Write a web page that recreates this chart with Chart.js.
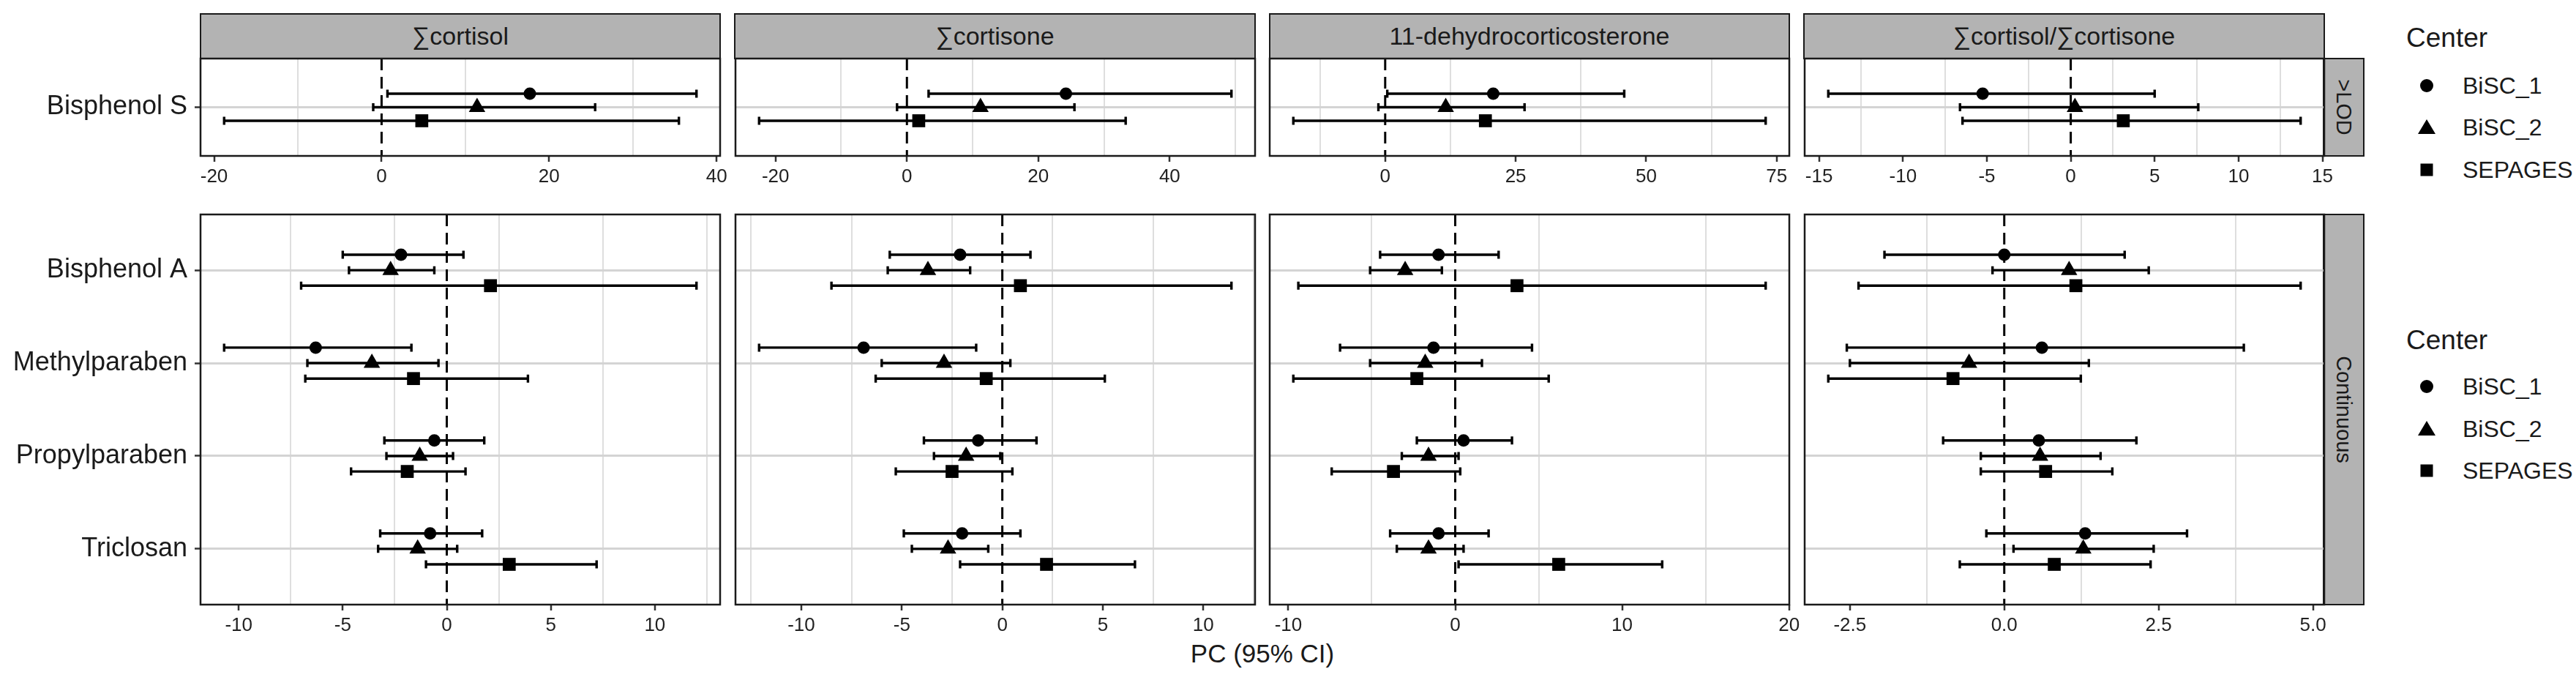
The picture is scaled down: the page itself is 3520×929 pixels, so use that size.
<!DOCTYPE html>
<html>
<head>
<meta charset="utf-8">
<script src="https://cdn.jsdelivr.net/npm/chart.js@4.4.1/dist/chart.umd.min.js"></script>
<style>
    html, body { margin: 0; padding: 0; background: #fff; }
    body { width: 3520px; height: 929px; position: relative; overflow: hidden;
           font-family: "Liberation Sans", Arial, sans-serif; color: #1a1a1a; }
    canvas { position: absolute; }
    .strip { position: absolute; box-sizing: border-box; background: #b3b3b3; border: 2.5px solid #1a1a1a;
             display: flex; align-items: center; justify-content: center; font-size: 34px; white-space: nowrap; }
    .rstrip span { display: block; transform: rotate(90deg); font-size: 29px; }
    .legend { position: absolute; left: 3288px; }
    .legend .title { position: absolute; left: 0; font-size: 37px; transform: translateY(-50%); white-space: nowrap; }
    .legend .item { position: absolute; left: 0; height: 0; }
    .legend .item svg { position: absolute; left: 15px; top: -13px; }
    .legend .item span { position: absolute; left: 77px; font-size: 32px; transform: translateY(-50%); white-space: nowrap; }
    #xtitle { position: absolute; left: 1725px; top: 893px; transform: translate(-50%, -50%); font-size: 35px; white-space: nowrap; }
</style>
</head>
<body>
<div id="xtitle">PC (95% CI)</div>
<script>
// ----------------- Data -----------------
const outcomes = ['∑cortisol', '∑cortisone', '11-dehydrocorticosterone', '∑cortisol/∑cortisone'];
const centers = ['BiSC_1', 'BiSC_2', 'SEPAGES'];
const exposures = ['Bisphenol S', 'Bisphenol A', 'Methylparaben', 'Propylparaben', 'Triclosan'];
const exposureRow = ['>LOD', 'Continuous', 'Continuous', 'Continuous', 'Continuous'];
const rowNames = ['>LOD', 'Continuous'];

// one line per center, values in exposure order
const cortisolPC = [[17.7, -2.2, -6.3, -0.6, -0.8], [11.4, -2.7, -3.6, -1.3, -1.4], [4.8, 2.1, -1.6, -1.9, 3.0]];
const cortisolLo = [[0.7, -5.0, -10.7, -3.0, -3.2], [-1.0, -4.7, -6.7, -2.9, -3.3], [-18.8, -7.0, -6.8, -4.6, -1.0]];
const cortisolHi = [[37.6, 0.8, -1.7, 1.8, 1.7], [25.5, -0.6, -0.4, 0.3, 0.5], [35.5, 12.0, 3.9, 0.9, 7.2]];

const cortisonePC = [[24.2, -2.1, -6.9, -1.2, -2.0], [11.2, -3.7, -2.9, -1.8, -2.7], [1.8, 0.9, -0.8, -2.5, 2.2]];
const cortisoneLo = [[3.3, -5.6, -12.1, -3.9, -4.9], [-1.5, -5.7, -6.0, -3.4, -4.5], [-22.5, -8.5, -6.3, -5.3, -2.1]];
const cortisoneHi = [[49.4, 1.4, -1.3, 1.7, 0.9], [25.5, -1.6, 0.4, -0.1, -0.7], [33.3, 11.4, 5.1, 0.5, 6.6]];

const dehydroPC = [[20.7, -1.0, -1.3, 0.5, -1.0], [11.6, -3.0, -1.8, -1.6, -1.6], [19.2, 3.7, -2.3, -3.7, 6.2]];
const dehydroLo = [[0.4, -4.5, -6.9, -2.3, -3.9], [-1.3, -5.1, -5.1, -3.2, -3.5], [-17.6, -9.4, -9.7, -7.4, 0.2]];
const dehydroHi = [[45.8, 2.6, 4.6, 3.4, 2.0], [26.7, -0.8, 1.6, 0.2, 0.5], [72.9, 18.6, 5.6, 0.3, 12.4]];

const ratioPC = [[-5.25, 0.0, 0.61, 0.56, 1.31], [0.25, 1.05, -0.57, 0.58, 1.28], [3.13, 1.16, -0.83, 0.67, 0.81]];
const ratioLo = [[-14.45, -1.94, -2.55, -0.99, -0.29], [-6.6, -0.19, -2.5, -0.38, 0.15], [-6.45, -2.36, -2.85, -0.38, -0.72]];
const ratioHi = [[5.0, 1.95, 3.88, 2.14, 2.96], [7.6, 2.34, 1.37, 1.56, 2.42], [13.7, 4.8, 1.24, 1.75, 2.37]];

// x tick labels per panel
const ticksLod = [[-20, 0, 20, 40], [-20, 0, 20, 40], [0, 25, 50, 75], [-15, -10, -5, 0, 5, 10, 15]];
const ticksContinuous = [[-10, -5, 0, 5, 10], [-10, -5, 0, 5, 10], [-10, 0, 10, 20], [-2.5, 0, 2.5, 5]];

const outcomePC = [cortisolPC, cortisonePC, dehydroPC, ratioPC];
const outcomeLo = [cortisolLo, cortisoneLo, dehydroLo, ratioLo];
const outcomeHi = [cortisolHi, cortisoneHi, dehydroHi, ratioHi];
const rowTicks = [ticksLod, ticksContinuous];

// ----------------- Layout -----------------
const PANEL_LEFT = 274, PANEL_W = 710, PANEL_GAP = 20.5;
const ROW_TOP = [80, 293], ROW_BOTTOM = [213, 826];
const AXIS_H = 60, PAD = 40;
const SHAPES = ['circle', 'triangle', 'rect'];
const RADII = [8.5, 13, 12.5];
const DODGE = [-1 / 6, 0, 1 / 6];
const FONT = '"Liberation Sans", Arial, sans-serif';

Chart.defaults.font.family = FONT;

// ----------------- Error bars, zero line, panel border -----------------
const forestPlugin = {
    id: 'forest',
    beforeDatasetsDraw(chart) {
        const { ctx, chartArea: a, scales: { x, y } } = chart;
        ctx.save();
        ctx.strokeStyle = '#000';
        ctx.lineWidth = 3;
        ctx.setLineDash([16, 9]);
        const x0 = x.getPixelForValue(0);
        ctx.beginPath();
        ctx.moveTo(x0, a.top);
        ctx.lineTo(x0, a.bottom);
        ctx.stroke();
        ctx.setLineDash([]);
        ctx.lineWidth = 3.4;
        chart.data.datasets.forEach(ds => {
            ds.data.forEach((p, k) => {
                const py = y.getPixelForValue(p.y);
                const x1 = x.getPixelForValue(ds.lo[k]);
                const x2 = x.getPixelForValue(ds.hi[k]);
                ctx.beginPath();
                ctx.moveTo(x1, py); ctx.lineTo(x2, py);
                ctx.moveTo(x1, py - 5.5); ctx.lineTo(x1, py + 5.5);
                ctx.moveTo(x2, py - 5.5); ctx.lineTo(x2, py + 5.5);
                ctx.stroke();
            });
        });
        ctx.restore();
    },
    afterDraw(chart) {
        const { ctx, chartArea: a } = chart;
        ctx.save();
        ctx.strokeStyle = '#1a1a1a';
        ctx.lineWidth = 2.5;
        ctx.strokeRect(a.left, a.top, a.right - a.left, a.bottom - a.top);
        ctx.restore();
    }
};

function fmt(v, list) {
    const dec = list.some(t => !Number.isInteger(t)) ? 1 : 0;
    return v.toFixed(dec);
}

function noPadding(axis) {
    axis.paddingTop = 0; axis.paddingBottom = 0;
    axis.paddingLeft = 0; axis.paddingRight = 0;
}

function makePanel(r, c) {
    const rows = exposures.map((e, k) => k).filter(k => exposureRow[k] === rowNames[r]);
    const pc = outcomePC[c], lo = outcomeLo[c], hi = outcomeHi[c];
    const all = [];
    centers.forEach((cn, s) => rows.forEach(k => all.push(lo[s][k], hi[s][k])));
    const dmin = Math.min(...all), dmax = Math.max(...all);
    const xmin = dmin - 0.05 * (dmax - dmin), xmax = dmax + 0.05 * (dmax - dmin);

    const major = rowTicks[r][c];
    const step = major[1] - major[0];
    const tickObjs = [];
    for (let v = major[0] - step / 2; v <= major[major.length - 1] + step / 2 + 1e-9; v += step / 2) {
        const isMajor = major.some(m => Math.abs(m - v) < 1e-9);
        if (v >= xmin && v <= xmax) tickObjs.push({ value: v, minor: !isMajor });
    }

    const pLeft = PANEL_LEFT + c * (PANEL_W + PANEL_GAP);
    const pRight = pLeft + PANEL_W;
    const cLeft = c === 0 ? 0 : pLeft - PAD;
    const cTop = ROW_TOP[r] - 10;
    const cw = Math.round(pRight + PAD - cLeft);
    const ch = ROW_BOTTOM[r] - cTop + AXIS_H;

    const canvas = document.createElement('canvas');
    canvas.width = cw; canvas.height = ch;
    canvas.style.left = cLeft + 'px'; canvas.style.top = cTop + 'px';
    canvas.style.width = cw + 'px'; canvas.style.height = ch + 'px';
    document.body.appendChild(canvas);

    const first = c === 0;
    new Chart(canvas.getContext('2d'), {
        type: 'scatter',
        data: {
            datasets: centers.map((cn, s) => ({
                label: cn,
                data: rows.map((k, i) => ({ x: pc[s][k], y: i + 1 + DODGE[s] })),
                lo: rows.map(k => lo[s][k]),
                hi: rows.map(k => hi[s][k]),
                pointStyle: SHAPES[s],
                pointRadius: RADII[s],
                pointHoverRadius: RADII[s],
                backgroundColor: '#000',
                borderColor: '#000',
                borderWidth: 0,
                clip: false
            }))
        },
        options: {
            responsive: false,
            animation: false,
            events: [],
            layout: { autoPadding: false, padding: { left: first ? 0 : PAD, right: PAD, top: 10, bottom: 0 } },
            plugins: { legend: { display: false }, tooltip: { enabled: false } },
            scales: {
                x: {
                    type: 'linear', bounds: 'data', min: xmin, max: xmax,
                    afterBuildTicks: axis => { axis.ticks = tickObjs.map(t => ({ ...t })); },
                    afterFit: axis => { axis.height = AXIS_H; noPadding(axis); },
                    border: { display: false },
                    grid: {
                        color: ctx => (ctx.tick && ctx.tick.minor ? '#dedede' : 'rgba(0,0,0,0)'),
                        lineWidth: 2,
                        tickColor: ctx => (ctx.tick && ctx.tick.minor ? 'rgba(0,0,0,0)' : '#333'),
                        tickLength: 8,
                        tickWidth: 2.5
                    },
                    ticks: {
                        autoSkip: false, maxRotation: 0, padding: 5,
                        color: '#222', font: { size: 26 },
                        callback: (v, i, ticks) => (ticks[i].minor ? '' : fmt(v, major))
                    }
                },
                y: {
                    type: 'linear', bounds: 'data', reverse: true, min: 0.4, max: rows.length + 0.6,
                    afterBuildTicks: axis => { axis.ticks = rows.map((k, i) => ({ value: i + 1 })); },
                    afterFit: axis => { axis.width = first ? PANEL_LEFT : 0; noPadding(axis); },
                    border: { display: false },
                    grid: {
                        color: '#d4d4d4', lineWidth: 3,
                        drawTicks: first, tickLength: 8, tickColor: '#333', tickWidth: 2.5
                    },
                    ticks: {
                        display: first, padding: 10, color: '#1a1a1a', font: { size: 36 },
                        callback: v => exposures[rows[Math.round(v) - 1]]
                    }
                }
            }
        },
        plugins: [forestPlugin]
    });
}

// ----------------- Strips -----------------
function addStrip(text, left, top, width, height, rotated) {
    const d = document.createElement('div');
    d.className = 'strip' + (rotated ? ' rstrip' : '');
    d.style.left = left + 'px'; d.style.top = top + 'px';
    d.style.width = width + 'px'; d.style.height = height + 'px';
    if (rotated) {
        const s = document.createElement('span');
        s.textContent = text;
        d.appendChild(s);
    } else {
        d.textContent = text;
    }
    document.body.appendChild(d);
}

outcomes.forEach((o, c) => {
    const pLeft = PANEL_LEFT + c * (PANEL_W + PANEL_GAP);
    addStrip(o, pLeft - 1.25, 18, PANEL_W + 2.5, 63.25, false);
});
const lastRight = PANEL_LEFT + 3 * (PANEL_W + PANEL_GAP) + PANEL_W;
rowNames.forEach((rn, r) => {
    addStrip(rn, lastRight - 1.25, ROW_TOP[r] - 1.25, 57, ROW_BOTTOM[r] - ROW_TOP[r] + 2.5, true);
});

// ----------------- Legends -----------------
const shapeSvg = [
    '<svg width="26" height="26"><circle cx="13" cy="13" r="9" fill="#000"/></svg>',
    '<svg width="26" height="26"><polygon points="13,2 25,22 1,22" fill="#000"/></svg>',
    '<svg width="26" height="26"><rect x="4.5" y="4.5" width="17" height="17" fill="#000"/></svg>'
];
function addLegend(titleY, itemYs) {
    const box = document.createElement('div');
    box.className = 'legend';
    box.style.top = '0px';
    let html = `<div class="title" style="top:${titleY}px">Center</div>`;
    centers.forEach((cn, s) => {
        html += `<div class="item" style="top:${itemYs[s]}px">${shapeSvg[s]}<span>${cn}</span></div>`;
    });
    box.innerHTML = html;
    document.body.appendChild(box);
}
addLegend(52, [117, 174, 232]);
addLegend(465, [528, 586, 643]);

for (let r = 0; r < 2; r++) {
    for (let c = 0; c < 4; c++) makePanel(r, c);
}
</script>
</body>
</html>
